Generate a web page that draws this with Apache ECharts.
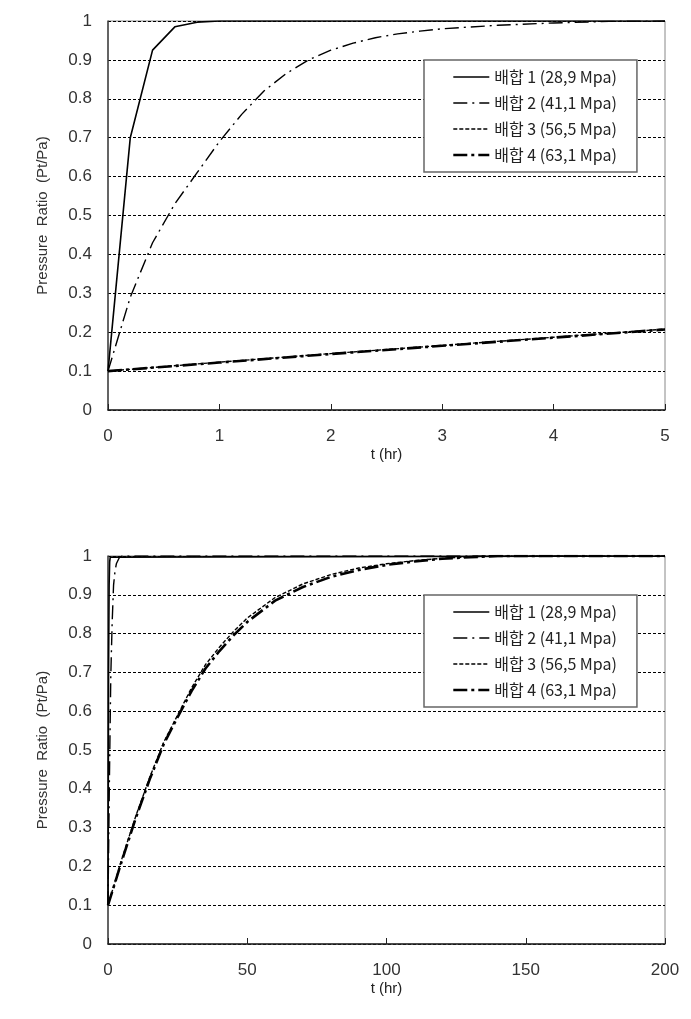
<!DOCTYPE html>
<html><head><meta charset="utf-8">
<script src="https://cdn.jsdelivr.net/npm/echarts@6/dist/echarts.min.js"></script>
<style>html,body{margin:0;padding:0;background:#fff}#c{width:691px;height:1019px}</style>
</head><body><div id="c"></div>
<script>
const seriesNames = ['배합 1 (28,9 Mpa)', '배합 2 (41,1 Mpa)', '배합 3 (56,5 Mpa)', '배합 4 (63,1 Mpa)'];
const yTicks = [0, 0.1, 0.2, 0.3, 0.4, 0.5, 0.6, 0.7, 0.8, 0.9, 1];

// Top panel (0-5 hr)
const topT1 = [0, 0.2, 0.4, 0.6, 0.8, 1.0, 5];
const topV1 = [0.1, 0.7, 0.925, 0.985, 0.997, 1.0, 1.0];
const topT2 = [0, 0.2, 0.4, 0.6, 0.8, 1.0, 1.2, 1.4, 1.6, 1.8, 2.0, 2.2, 2.4, 2.6, 2.8, 3.0, 3.5, 4.0, 4.5, 5];
const topV2 = [0.1, 0.29, 0.43, 0.53, 0.61, 0.69, 0.76, 0.82, 0.865, 0.9, 0.925, 0.943, 0.957, 0.967, 0.974, 0.98, 0.989, 0.995, 0.999, 1.0];
const topT3 = [0, 1, 2, 3, 4, 5];
const topV3 = [0.1, 0.123, 0.145, 0.166, 0.187, 0.208];
const topT4 = [0, 1, 2, 3, 4, 5];
const topV4 = [0.1, 0.122, 0.144, 0.165, 0.186, 0.207];

// Bottom panel (0-200 hr)
const botT1 = [0, 0.2, 0.4, 0.6, 0.8, 1.0, 200];
const botV1 = [0.1, 0.7, 0.925, 0.985, 0.997, 1.0, 1.0];
const botT2 = [0, 0.5, 1, 1.5, 2, 2.5, 3, 4, 5, 200];
const botV2 = [0.1, 0.42, 0.69, 0.83, 0.925, 0.96, 0.98, 0.995, 1.0, 1.0];
const botT3 = [0, 5, 10, 15, 20, 25, 30, 35, 40, 45, 50, 60, 70, 80, 90, 100, 110, 120, 130, 140, 150, 200];
const botV3 = [0.1, 0.22, 0.33, 0.43, 0.52, 0.59, 0.66, 0.72, 0.765, 0.805, 0.84, 0.893, 0.928, 0.952, 0.969, 0.98, 0.988, 0.994, 0.998, 1.0, 1.0, 1.0];
const botT4 = [0, 5, 10, 15, 20, 25, 30, 35, 40, 45, 50, 60, 70, 80, 90, 100, 110, 120, 130, 140, 150, 200];
const botV4 = [0.1, 0.215, 0.325, 0.425, 0.515, 0.585, 0.652, 0.71, 0.755, 0.795, 0.83, 0.885, 0.92, 0.946, 0.964, 0.977, 0.986, 0.993, 0.997, 1.0, 1.0, 1.0];

const zip = (t, v) => t.map((x, i) => [x, v[i]]);

const styles = [
  {color: '#000', width: 1.6, type: 'solid'},
  {color: '#000', width: 1.4, type: [14, 5, 2, 5]},
  {color: '#000', width: 1.4, type: [4, 2]},
  {color: '#000', width: 2.6, type: [14, 4, 3, 4]}
];

const font = '"Liberation Sans", Arial, sans-serif';

function xAxis(gi, max, interval) {
  return {
    type: 'value', gridIndex: gi, min: 0, max: max, interval: interval,
    name: 't (hr)', nameLocation: 'middle', nameGap: 37,
    nameTextStyle: {color: '#222', fontSize: 15, fontFamily: font},
    axisLine: {lineStyle: {color: '#222', width: 1.5}},
    axisTick: {inside: true, length: 6, lineStyle: {color: '#222'}},
    axisLabel: {color: '#333', fontSize: 17, fontFamily: font, margin: 18},
    splitLine: {show: false}
  };
}
function yAxis(gi) {
  return {
    type: 'value', gridIndex: gi, min: 0, max: 1, interval: 0.1,
    name: 'Pressure  Ratio  (Pt/Pa)', nameLocation: 'middle', nameGap: 58,
    nameTextStyle: {color: '#333', fontSize: 15, fontFamily: font},
    axisLine: {lineStyle: {color: '#444', width: 1.5}},
    axisTick: {show: false},
    axisLabel: {color: '#333', fontSize: 17, fontFamily: font, margin: 16,
      formatter: v => { const r = Math.round(v * 10) / 10; return yTicks.indexOf(r) >= 0 ? String(r) : ''; }},
    splitLine: {show: true, lineStyle: {color: '#000', width: 1, type: [3, 2]}}
  };
}
function legend(top) {
  return {
    data: seriesNames.map((n, i) => ({name: n, lineStyle: {width: styles[i].width, type: styles[i].type, color: '#000'}})),
    orient: 'vertical', left: 424, top: top,
    padding: [9, 20, 9, 28], itemGap: 10,
    itemWidth: 36, itemHeight: 16,
    backgroundColor: '#fff', borderColor: '#666', borderWidth: 1.5,
    itemStyle: {opacity: 0},
    textStyle: {color: '#222', fontSize: 16, fontFamily: '"Noto Sans CJK KR", sans-serif'},
    selectedMode: false
  };
}

const topData = [zip(topT1, topV1), zip(topT2, topV2), zip(topT3, topV3), zip(topT4, topV4)];
const botData = [zip(botT1, botV1), zip(botT2, botV2), zip(botT3, botV3), zip(botT4, botV4)];

const series = [];
[topData, botData].forEach((set, gi) => {
  set.forEach((d, i) => {
    series.push({
      name: seriesNames[i], type: 'line', xAxisIndex: gi, yAxisIndex: gi,
      data: d, showSymbol: false, symbol: 'none', smooth: false, clip: true,
      lineStyle: styles[i], itemStyle: {color: '#000'}, z: 3 + (3 - i)
    });
  });
});

const chart = echarts.init(document.getElementById('c'), null, {renderer: 'canvas'});
chart.setOption({
  animation: false,
  backgroundColor: '#fff',
  grid: [
    {left: 108, top: 21, width: 557, height: 389, show: true, borderColor: '#888', borderWidth: 1},
    {left: 108, top: 556, width: 557, height: 388, show: true, borderColor: '#888', borderWidth: 1}
  ],
  xAxis: [xAxis(0, 5, 1), xAxis(1, 200, 50)],
  yAxis: [yAxis(0), yAxis(1)],
  legend: [legend(60), legend(595)],
  series: series
});
</script></body></html>
